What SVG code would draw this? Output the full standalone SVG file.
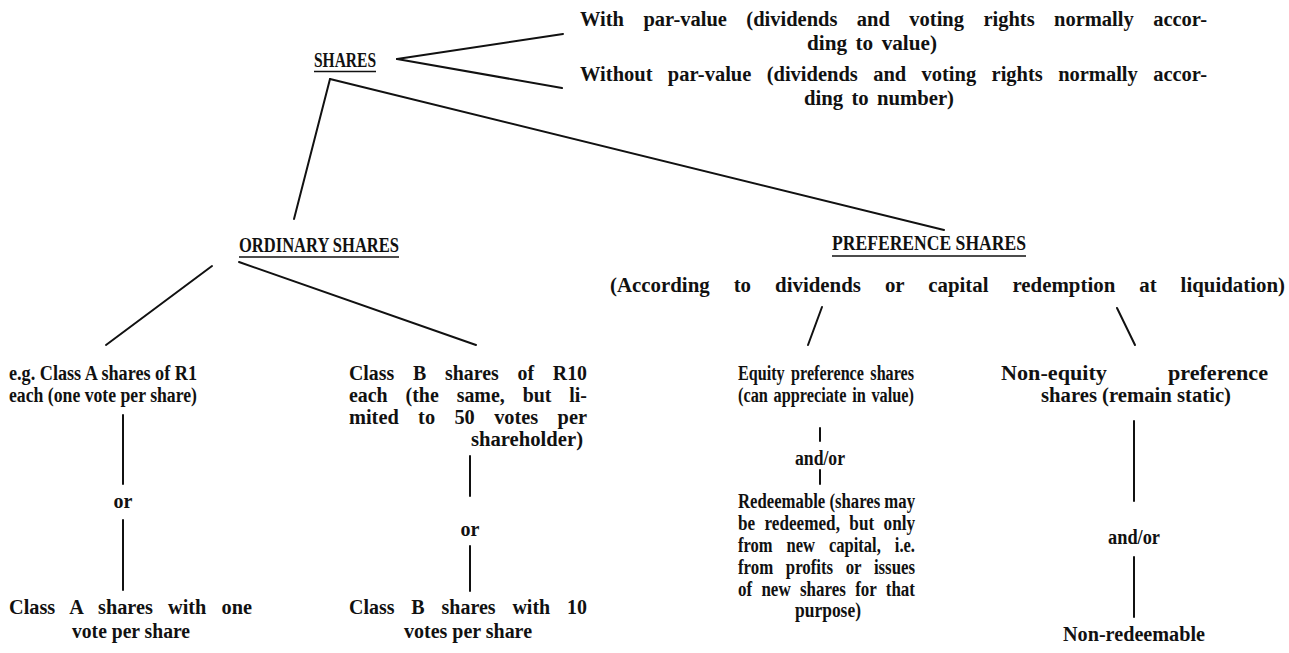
<svg xmlns="http://www.w3.org/2000/svg" width="1289" height="653" viewBox="0 0 1289 653">
<style>
text{font-family:"Liberation Serif","Times New Roman",serif;font-weight:bold;font-size:20px;fill:#111}
.m{text-anchor:middle}
.c line{stroke:#111;stroke-width:2;stroke-linecap:round}
.u{stroke:#111;stroke-width:1.6}
</style>
<rect width="1289" height="653" fill="#fff"/>
<g id="shares">
<text x="314" y="67" textLength="62" lengthAdjust="spacingAndGlyphs">SHARES</text>
<line class="u" x1="314" y1="71.5" x2="376" y2="71.5"/>
</g>
<g id="par">
<text x="580" y="26" textLength="627" lengthAdjust="spacingAndGlyphs" word-spacing="14">With par-value (dividends and voting rights normally accor-</text>
<text x="872" y="50" class="m" textLength="130" lengthAdjust="spacingAndGlyphs" word-spacing="3">ding to value)</text>
</g>
<g id="nopar">
<text x="580" y="81" textLength="627" lengthAdjust="spacingAndGlyphs" word-spacing="10">Without par-value (dividends and voting rights normally accor-</text>
<text x="879" y="105" class="m" textLength="150" lengthAdjust="spacingAndGlyphs" word-spacing="3">ding to number)</text>
</g>
<g id="ordinary">
<text x="239" y="252" textLength="160" lengthAdjust="spacingAndGlyphs">ORDINARY SHARES</text>
<line class="u" x1="239" y1="257" x2="399" y2="257"/>
</g>
<g id="preference">
<text x="832" y="250" textLength="194" lengthAdjust="spacingAndGlyphs">PREFERENCE SHARES</text>
<line class="u" x1="832" y1="256" x2="1026" y2="256"/>
<text x="610" y="292" textLength="675" lengthAdjust="spacingAndGlyphs" word-spacing="18">(According to dividends or capital redemption at liquidation)</text>
</g>
<g id="classA">
<text x="9" y="380" textLength="188" lengthAdjust="spacingAndGlyphs">e.g. Class A shares of R1</text>
<text x="9" y="402" textLength="188" lengthAdjust="spacingAndGlyphs">each (one vote per share)</text>
</g>
<g id="classB">
<text x="349" y="380" textLength="238" lengthAdjust="spacingAndGlyphs" word-spacing="14">Class B shares of R10</text>
<text x="349" y="402" textLength="238" lengthAdjust="spacingAndGlyphs" word-spacing="13">each (the same, but li-</text>
<text x="349" y="424" textLength="238" lengthAdjust="spacingAndGlyphs" word-spacing="14">mited to 50 votes per</text>
<text x="527" y="446" class="m" textLength="112" lengthAdjust="spacingAndGlyphs">shareholder)</text>
</g>
<g id="or1"><text x="123" y="508" class="m">or</text></g>
<g id="or2"><text x="470" y="536" class="m">or</text></g>
<g id="classA1">
<text x="9" y="614" textLength="243" lengthAdjust="spacingAndGlyphs" word-spacing="10">Class A shares with one</text>
<text x="131" y="638" class="m" textLength="118" lengthAdjust="spacingAndGlyphs">vote per share</text>
</g>
<g id="classB10">
<text x="349" y="614" textLength="238" lengthAdjust="spacingAndGlyphs" word-spacing="12">Class B shares with 10</text>
<text x="468" y="638" class="m" textLength="128" lengthAdjust="spacingAndGlyphs">votes per share</text>
</g>
<g id="equity">
<text x="738" y="380" textLength="176" lengthAdjust="spacingAndGlyphs" word-spacing="3">Equity preference shares</text>
<text x="738" y="402" textLength="176" lengthAdjust="spacingAndGlyphs" word-spacing="2">(can appreciate in value)</text>
</g>
<g id="andor1"><text x="820" y="465" class="m" textLength="50" lengthAdjust="spacingAndGlyphs">and/or</text></g>
<g id="redeemable">
<text x="738" y="508" textLength="177" lengthAdjust="spacingAndGlyphs">Redeemable (shares may</text>
<text x="738" y="530" textLength="177" lengthAdjust="spacingAndGlyphs" word-spacing="6">be redeemed, but only</text>
<text x="738" y="552" textLength="177" lengthAdjust="spacingAndGlyphs" word-spacing="12">from new capital, i.e.</text>
<text x="738" y="574" textLength="177" lengthAdjust="spacingAndGlyphs" word-spacing="10">from profits or issues</text>
<text x="738" y="596" textLength="177" lengthAdjust="spacingAndGlyphs" word-spacing="6">of new shares for that</text>
<text x="828" y="617" class="m" textLength="66" lengthAdjust="spacingAndGlyphs">purpose)</text>
</g>
<g id="nonequity">
<text x="1001" y="380" textLength="267" lengthAdjust="spacingAndGlyphs" word-spacing="50">Non-equity preference</text>
<text x="1136" y="402" class="m" textLength="190" lengthAdjust="spacingAndGlyphs">shares (remain static)</text>
</g>
<g id="andor2"><text x="1134" y="544" class="m" textLength="52" lengthAdjust="spacingAndGlyphs">and/or</text></g>
<g id="nonredeemable"><text x="1134" y="641" class="m" textLength="142" lengthAdjust="spacingAndGlyphs">Non-redeemable</text></g>
<g class="c" id="connectors">
<line x1="397" y1="59" x2="563" y2="34"/>
<line x1="397" y1="59" x2="562" y2="88"/>
<line x1="330" y1="79" x2="294" y2="219"/>
<line x1="330" y1="79" x2="944" y2="230"/>
<line x1="212" y1="266" x2="106" y2="345"/>
<line x1="239" y1="262" x2="476" y2="345"/>
<line x1="822" y1="307" x2="808" y2="345"/>
<line x1="1117" y1="308" x2="1135" y2="345"/>
<line x1="123" y1="415" x2="123" y2="484"/>
<line x1="123" y1="520" x2="123" y2="590"/>
<line x1="470" y1="456" x2="470" y2="496"/>
<line x1="470" y1="546" x2="470" y2="591"/>
<line x1="820" y1="428" x2="820" y2="441"/>
<line x1="820" y1="470" x2="820" y2="484"/>
<line x1="1134" y1="421" x2="1134" y2="501"/>
<line x1="1134" y1="557" x2="1134" y2="617"/>
</g>
</svg>
